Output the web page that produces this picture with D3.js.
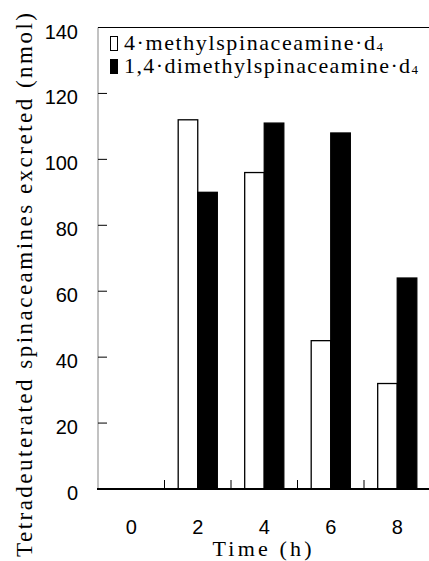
<!DOCTYPE html>
<html>
<head>
<meta charset="utf-8">
<script src="https://cdn.jsdelivr.net/npm/d3@7"></script>
<style>
  body { margin: 0; background: #fff; }
  svg { display: block; }
  .serif { font-family: "Liberation Serif", "Times New Roman", serif; }
  .sans { font-family: "Liberation Sans", Arial, sans-serif; }
</style>
</head>
<body>
<div id="chart"></div>
<script>
// values
const times = ["0", "2", "4", "6", "8"];
const seriesNames = ["4·methylspinaceamine·d", "1,4·dimethylspinaceamine·d"];
const methyl = [0, 112, 96, 45, 32];
const dimethyl = [0, 90, 111, 108, 64];
const yTicks = [0, 20, 40, 60, 80, 100, 120, 140];

const width = 429, height = 561;
const plotLeft = 98, plotRight = 430.5, plotTop = 27.5, plotBottom = 489;

const svg = d3.select("#chart").append("svg")
    .attr("width", width)
    .attr("height", height);

const x = d3.scaleBand().domain(times).range([plotLeft, plotRight]);
const x1 = d3.scaleBand().domain([0, 1]).range([0, x.bandwidth()]).paddingOuter(0.7);
const y = d3.scaleLinear().domain([0, 140]).range([plotBottom, plotTop]);

// bars
const series = [methyl, dimethyl];
series.forEach((vals, s) => {
    svg.append("g").selectAll("rect")
        .data(vals.map((v, i) => ({ t: times[i], v: v })).filter(d => d.v > 0))
        .enter().append("rect")
        .attr("x", d => x(d.t) + x1(s))
        .attr("y", d => y(d.v))
        .attr("width", x1.bandwidth())
        .attr("height", d => y(0) - y(d.v))
        .style("fill", s === 0 ? "#fff" : "#000")
        .style("stroke", "#000")
        .style("stroke-width", 1.3);
});

// frame: grey left axis, black top line, thick black bottom
svg.append("line")
    .attr("x1", plotLeft).attr("x2", plotLeft)
    .attr("y1", plotTop).attr("y2", plotBottom)
    .style("stroke", "#999").style("stroke-width", 1.2);
svg.append("line")
    .attr("x1", plotLeft).attr("x2", width)
    .attr("y1", plotTop).attr("y2", plotTop)
    .style("stroke", "#000").style("stroke-width", 1.2);

// y ticks (inward) and labels
svg.append("g").selectAll("line")
    .data(yTicks.filter(d => d > 0 && d < 140))
    .enter().append("line")
    .attr("x1", plotLeft).attr("x2", plotLeft + 9)
    .attr("y1", d => y(d)).attr("y2", d => y(d))
    .style("stroke", "#000").style("stroke-width", 1);

svg.append("g").selectAll("text")
    .data(yTicks)
    .enter().append("text")
    .attr("class", "sans")
    .attr("x", 78)
    .attr("y", d => y(d) + 11)
    .attr("text-anchor", "end")
    .style("font-size", "20px")
    .text(d => d);

// x ticks at the band boundaries, pointing up
svg.append("g").selectAll("line")
    .data(times.slice(1))
    .enter().append("line")
    .attr("x1", d => x(d)).attr("x2", d => x(d))
    .attr("y1", plotBottom).attr("y2", plotBottom - 9)
    .style("stroke", "#000").style("stroke-width", 1);

svg.append("line")
    .attr("x1", plotLeft - 1).attr("x2", width)
    .attr("y1", plotBottom).attr("y2", plotBottom)
    .style("stroke", "#000").style("stroke-width", 2.2);

svg.append("g").selectAll("text")
    .data(times)
    .enter().append("text")
    .attr("class", "sans")
    .attr("x", d => x(d) + x.bandwidth() / 2)
    .attr("y", 534)
    .attr("text-anchor", "middle")
    .style("font-size", "20px")
    .text(d => d);

// axis titles
svg.append("text")
    .attr("class", "serif")
    .attr("x", 262)
    .attr("y", 556)
    .attr("text-anchor", "middle")
    .attr("textLength", 99)
    .attr("lengthAdjust", "spacing")
    .style("font-size", "22px")
    .text("Time (h)");

svg.append("text")
    .attr("class", "serif")
    .attr("transform", "translate(32,285) rotate(-90)")
    .attr("text-anchor", "middle")
    .attr("textLength", 544)
    .attr("lengthAdjust", "spacing")
    .style("font-size", "23px")
    .text("Tetradeuterated spinaceamines excreted (nmol)");

// legend
const legend = svg.append("g");
const legendWidths = [259, 294];
seriesNames.forEach((name, i) => {
    const ly = 50 + i * 23;
    legend.append("rect")
        .attr("x", 110.5).attr("y", ly - 13.5)
        .attr("width", 7).attr("height", 14)
        .style("fill", i === 0 ? "#fff" : "#000")
        .style("stroke", "#000").style("stroke-width", 1);
    const t = legend.append("text")
        .attr("class", "serif")
        .attr("x", 124).attr("y", ly)
        .attr("textLength", legendWidths[i])
        .attr("lengthAdjust", "spacing")
        .style("font-size", "22px")
        .text(name);
    t.append("tspan")
        .attr("dy", 1)
        .style("font-size", "13px")
        .text("4");
});
</script>
</body>
</html>
